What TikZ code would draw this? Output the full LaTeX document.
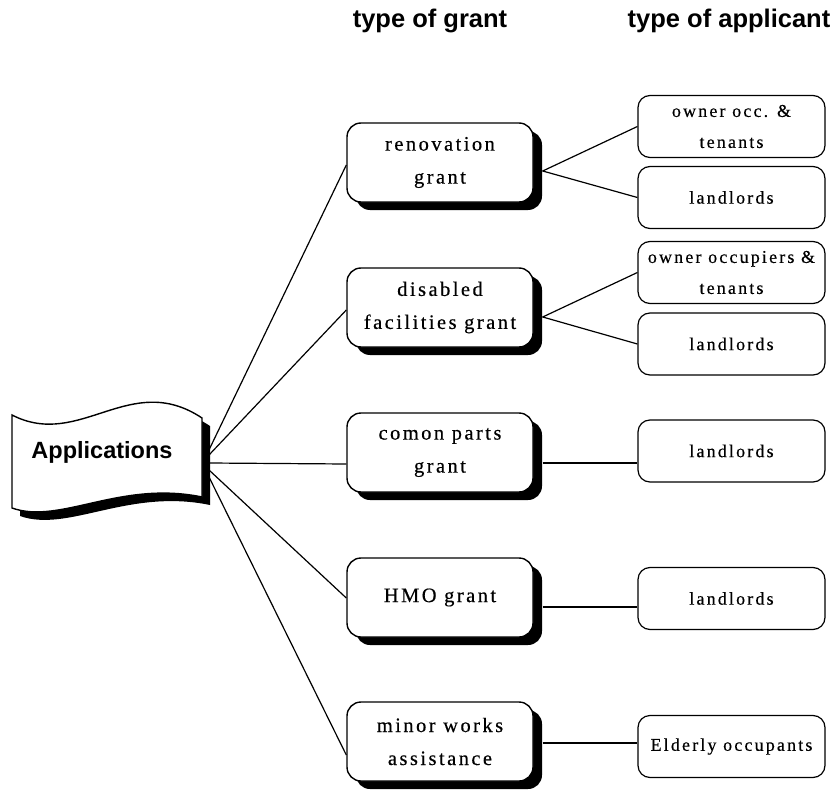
\documentclass[tikz,border=0pt]{standalone}
\usepackage{fontspec}
\setmainfont{Liberation Serif}
\newfontfamily\headfont{Liberation Sans}
\newfontfamily\boxfont{Liberation Serif}[LetterSpace=12, FakeBold=0.4]
\usetikzlibrary{calc,shadows}

\begin{document}
\begin{tikzpicture}[x=1pt,y=-1pt,
  grantbox/.style={draw, line width=1.4pt, rounded corners=14pt, fill=white,
    minimum width=186pt, minimum height=79pt, inner sep=0pt, align=center,
    font=\boxfont\fontsize{20.5}{33}\selectfont,
    drop shadow={shadow xshift=9pt, shadow yshift=-8pt, opacity=1, fill=black}},
  whobox/.style={draw, line width=1.2pt, rounded corners=12pt, fill=white,
    minimum width=187pt, minimum height=62pt, inner sep=0pt, align=center,
    font=\boxfont\fontsize{18}{31}\selectfont},
  heading/.style={font=\headfont\bfseries\fontsize{25.5}{30}\selectfont, anchor=base},
  link/.style={line width=1.2pt}
]
\useasboundingbox (0,0) rectangle (836,792);

% column headings
\node[heading] (hgrant) at (430,28) {type of grant};
\node[heading] (happ)   at (729,28) {type of applicant};

% waving banner with its shadow
\fill[black, shift={(8,8)}]
  (12,415) .. controls (80,450) and (130,370) .. (202,418)
  -- (202,497) .. controls (120,480) and (60,525) .. (12,508) -- cycle;
\filldraw[fill=white, draw=black, line width=1.4pt]
  (12,415) .. controls (80,450) and (130,370) .. (202,418)
  -- (202,497) .. controls (120,480) and (60,525) .. (12,508) -- cycle;
\node[font=\headfont\bfseries\fontsize{23.5}{28}\selectfont] (app) at (102,452) {Applications};

% fan-out points on the banner edge
\coordinate (app1) at (208,452);
\coordinate (app2) at (209,455);
\coordinate (app3) at (209,463);
\coordinate (app4) at (209,470);
\coordinate (app5) at (209,477);

% grant types
\node[grantbox] (g1) at (440,162.5) {renovation\\grant};
\node[grantbox] (g2) at (440,307.5) {disabled\\facilities grant};
\node[grantbox] (g3) at (440,452.5) {comon parts\\grant};
\node[grantbox] (g4) at (440,597.5) {HMO grant};
\node[grantbox] (g5) at (440,741.5) {minor works\\assistance};

% applicant types
\node[whobox] (r1a) at (731.5,126.5) {owner occ. \&\\tenants};
\node[whobox] (r1b) at (731.5,197.5) {landlords};
\node[whobox] (r2a) at (731.5,272.5) {owner occupiers \&\\tenants};
\node[whobox] (r2b) at (731.5,344)   {landlords};
\node[whobox] (r3)  at (731.5,451)   {landlords};
\node[whobox] (r4)  at (731.5,598.5) {landlords};
\node[whobox] (r5)  at (731.5,746.5) {Elderly occupants};

% banner to grants
\draw[link] (app1) -- ($(g1.west)+(0,2.5)$);
\draw[link] (app2) -- ($(g2.west)+(0,2.5)$);
\draw[link] (app3) -- ($(g3.west)+(0,11.5)$);
\draw[link] (app4) -- ($(g4.west)+(0,0.5)$);
\draw[link] (app5) -- ($(g5.west)+(0,13.5)$);

% grants to applicants
\coordinate (g1o) at ($(g1.east)+(9,8.5)$);
\coordinate (g2o) at ($(g2.east)+(9,9.5)$);
\coordinate (g3o) at ($(g3.east)+(9,10.5)$);
\coordinate (g4o) at ($(g4.east)+(9,9.5)$);
\coordinate (g5o) at ($(g5.east)+(9,1.5)$);
\draw[link] (r1a.west) -- (g1o) -- (r1b.west);
\draw[link] (r2a.west) -- (g2o) -- (r2b.west);
\draw[link] (g3o) -- (g3o -| r3.west);
\draw[link] (g4o) -- (g4o -| r4.west);
\draw[link] (g5o) -- (g5o -| r5.west);
\end{tikzpicture}
\end{document}
